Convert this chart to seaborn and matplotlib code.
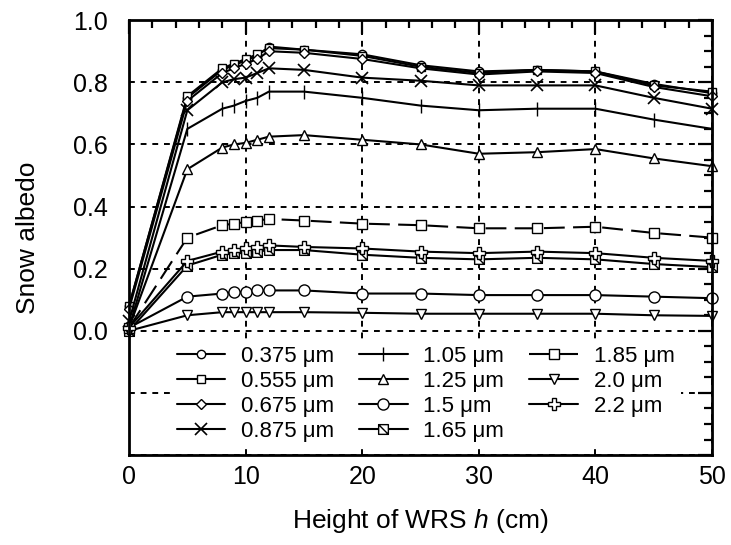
import numpy as np
import matplotlib
matplotlib.use("Agg")
import matplotlib.pyplot as plt
import seaborn as sns
from matplotlib.path import Path
from matplotlib.ticker import MultipleLocator, FuncFormatter

# 数据：WRS 高度 (cm) 与各波长的雪面反照率
heights = [0, 5, 8, 9, 10, 11, 12, 15, 20, 25, 30, 35, 40, 45, 50]

alb_0375 = [0.08, 0.75, 0.84, 0.855, 0.87, 0.885, 0.915, 0.905, 0.89, 0.855, 0.835, 0.84, 0.835, 0.795, 0.765]
alb_0555 = [0.08, 0.755, 0.845, 0.86, 0.875, 0.89, 0.91, 0.905, 0.885, 0.85, 0.83, 0.84, 0.835, 0.79, 0.77]
alb_0675 = [0.07, 0.74, 0.83, 0.845, 0.86, 0.875, 0.90, 0.895, 0.875, 0.845, 0.825, 0.835, 0.83, 0.785, 0.755]
alb_0875 = [0.03, 0.71, 0.80, 0.81, 0.815, 0.83, 0.845, 0.84, 0.815, 0.805, 0.79, 0.79, 0.79, 0.75, 0.715]
alb_105 = [0.01, 0.65, 0.715, 0.725, 0.74, 0.75, 0.77, 0.77, 0.75, 0.725, 0.71, 0.715, 0.715, 0.68, 0.65]
alb_125 = [0.01, 0.52, 0.59, 0.60, 0.605, 0.615, 0.625, 0.63, 0.615, 0.60, 0.57, 0.575, 0.585, 0.555, 0.53]
alb_15 = [0.01, 0.11, 0.12, 0.125, 0.125, 0.13, 0.13, 0.13, 0.12, 0.12, 0.115, 0.115, 0.115, 0.11, 0.105]
alb_165 = [0.0, 0.21, 0.245, 0.25, 0.25, 0.255, 0.26, 0.26, 0.245, 0.235, 0.23, 0.235, 0.23, 0.215, 0.205]
alb_185 = [0.01, 0.30, 0.34, 0.345, 0.35, 0.355, 0.36, 0.355, 0.345, 0.34, 0.33, 0.33, 0.335, 0.315, 0.30]
alb_20 = [0.0, 0.05, 0.06, 0.06, 0.06, 0.06, 0.06, 0.06, 0.058, 0.055, 0.055, 0.055, 0.055, 0.05, 0.048]
alb_22 = [0.01, 0.225, 0.255, 0.26, 0.265, 0.27, 0.275, 0.27, 0.265, 0.255, 0.25, 0.255, 0.25, 0.235, 0.225]

labels = ["0.375 \u03bcm", "0.555 \u03bcm", "0.675 \u03bcm", "0.875 \u03bcm",
          "1.05 \u03bcm", "1.25 \u03bcm", "1.5 \u03bcm", "1.65 \u03bcm",
          "1.85 \u03bcm", "2.0 \u03bcm", "2.2 \u03bcm"]
series = [alb_0375, alb_0555, alb_0675, alb_0875, alb_105, alb_125,
          alb_15, alb_165, alb_185, alb_20, alb_22]

# 方框加对角线的标记（1.65 μm）
box_diag = Path([(-1, -1), (1, -1), (1, 1), (-1, 1), (-1, -1), (-1, 1), (1, -1)],
                [Path.MOVETO, Path.LINETO, Path.LINETO, Path.LINETO, Path.CLOSEPOLY,
                 Path.MOVETO, Path.LINETO])

styles = [
    dict(marker="o", ms=6),
    dict(marker="s", ms=6),
    dict(marker="D", ms=5),
    dict(marker="x", ms=8, mew=1.2),
    dict(marker="|", ms=10, mew=1.0),
    dict(marker="^", ms=7),
    dict(marker="o", ms=8),
    dict(marker=box_diag, ms=7),
    dict(marker="s", ms=7, dashes=(10, 4)),
    dict(marker="v", ms=7),
    dict(marker="P", ms=8),
]

sns.set_theme(style="white")
plt.rcParams["font.family"] = ["Liberation Sans", "DejaVu Sans"]
plt.rcParams["mathtext.fontset"] = "custom"
plt.rcParams["mathtext.it"] = "Liberation Sans:italic"
plt.rcParams["mathtext.rm"] = "Liberation Sans"
plt.rcParams["text.color"] = "black"

fig = plt.figure(figsize=(7.31, 5.45), dpi=100)
ax = fig.add_axes([0.1765, 0.165, 0.7975, 0.798])

for vals, lab, st in zip(series, labels, styles):
    st = dict(st)
    dashes = st.pop("dashes", None)
    line_kw = dict(color="black", lw=1.5, mfc="white", mec="black", clip_on=False)
    if "mew" not in st:
        line_kw["mew"] = 1.0
    sns.lineplot(x=heights, y=vals, ax=ax, label=lab, **line_kw, **st)
    if dashes is not None:
        ax.lines[-1].set_dashes(dashes)

ax.set_xlim(0, 50)
ax.set_ylim(-0.4, 1.0)
ax.xaxis.set_major_locator(MultipleLocator(10))
ax.xaxis.set_minor_locator(MultipleLocator(2))
ax.yaxis.set_major_locator(MultipleLocator(0.2))
ax.yaxis.set_minor_locator(MultipleLocator(0.05))
ax.yaxis.set_major_formatter(FuncFormatter(lambda v, p: "" if v < -0.01 else f"{abs(v):.1f}"))

ax.tick_params(which="both", direction="in", top=True, right=True, colors="black",
               labelsize=18, width=1.6)
ax.tick_params(which="major", length=10)
ax.tick_params(which="minor", length=6)
ax.tick_params(axis="y", which="major", pad=15)
ax.tick_params(axis="x", which="major", pad=7)
for sp in ax.spines.values():
    sp.set_linewidth(2.0)
    sp.set_color("black")

ax.grid(True, which="major", color="black", linestyle=(0, (3, 3)), lw=1.4)

ax.set_xlabel("Height of WRS $h$ (cm)", fontsize=19, color="black", labelpad=13)
ax.set_ylabel("Snow albedo", fontsize=19, color="black", labelpad=24)

leg = ax.legend(ncol=3, loc="upper left", bbox_to_anchor=(0.051, 0.292),
                fontsize=16, frameon=True, framealpha=1, facecolor="white",
                edgecolor="none", handlelength=2.2, handletextpad=0.7,
                columnspacing=1.12, labelspacing=0.18, borderpad=0.3)
for t in leg.get_texts():
    t.set_color("black")
leg.set_zorder(5)

fig.savefig("out.png", dpi=100)
